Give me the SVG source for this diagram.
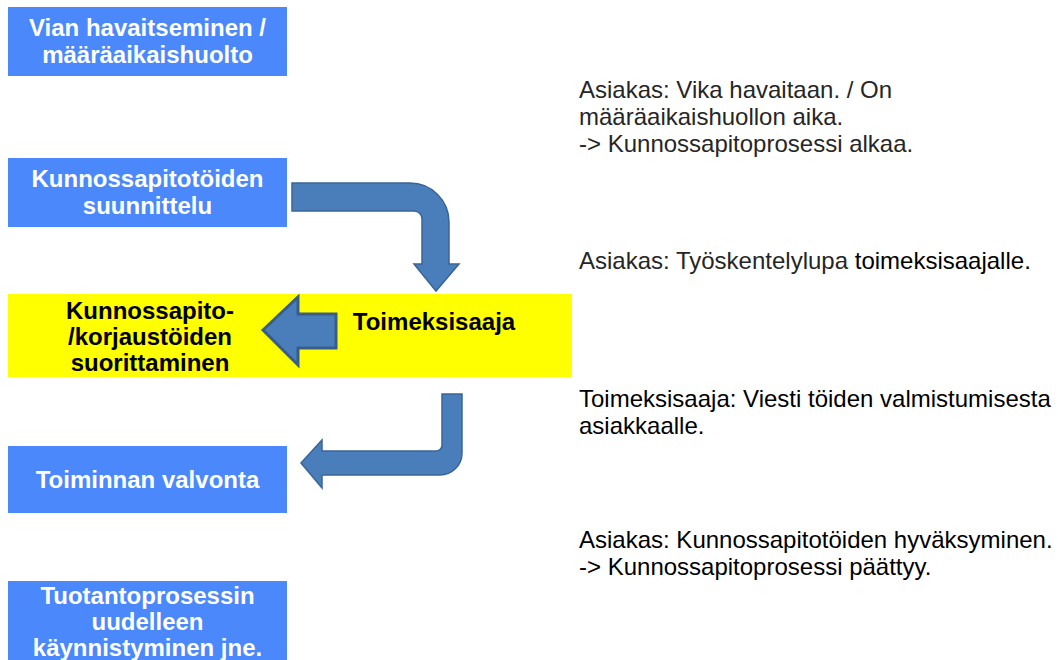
<svg xmlns="http://www.w3.org/2000/svg" width="1058" height="660" viewBox="0 0 1058 660">
<style>
.box{fill:#4a88fb}
.bt{font-family:"Liberation Sans",Arial,sans-serif;font-size:24px;font-weight:bold;fill:#fff;text-anchor:middle}
.yt{font-family:"Liberation Sans",Arial,sans-serif;font-size:24px;font-weight:bold;fill:#000;text-anchor:middle}
.nt{font-family:"Liberation Sans",Arial,sans-serif;font-size:24px;fill:#262626}
.nk{fill:#000}
.arr{fill:#4a7ebb;stroke:#3a6497;stroke-width:1.5;stroke-linejoin:miter}
.arr2{fill:#4a7ebb;stroke:#385d8a;stroke-width:3;stroke-linejoin:miter}
</style>
<rect width="1058" height="660" fill="#fff"/>
<g id="n1">
<rect class="box" x="8" y="7" width="279" height="69"/>
<text class="bt" x="147.5" y="36">Vian havaitseminen /</text>
<text class="bt" x="147.5" y="63">määräaikaishuolto</text>
</g>
<g id="n2">
<rect class="box" x="8" y="158" width="279" height="69"/>
<text class="bt" x="147.5" y="187">Kunnossapitotöiden</text>
<text class="bt" x="147.5" y="214">suunnittelu</text>
</g>
<g id="n3">
<rect x="8" y="294" width="564" height="83" fill="#ffff00"/>
<text class="yt" x="150" y="319">Kunnossapito-</text>
<text class="yt" x="150" y="345">/korjaustöiden</text>
<text class="yt" x="150" y="371">suorittaminen</text>
</g>
<g id="n3b">
<text class="yt" x="434" y="330">Toimeksisaaja</text>
</g>
<g id="n4">
<rect class="box" x="8" y="446" width="279" height="67"/>
<text class="bt" x="147.5" y="488">Toiminnan valvonta</text>
</g>
<g id="n5">
<rect class="box" x="8" y="581" width="279" height="80"/>
<text class="bt" x="147.5" y="604">Tuotantoprosessin</text>
<text class="bt" x="147.5" y="630">uudelleen</text>
<text class="bt" x="147.5" y="656">käynnistyminen jne.</text>
</g>
<g id="notes">
<text class="nt" x="579" y="98">Asiakas: Vika havaitaan. / On</text>
<text class="nt" x="579" y="125">määräaikaishuollon aika.</text>
<text class="nt" x="579" y="152">-&gt; Kunnossapitoprosessi alkaa.</text>
<text class="nt" x="579" y="269">Asiakas: Työskentelylupa <tspan class="nk">toimeksisaajalle.</tspan></text>
<text class="nt nk" x="579" y="407">Toimeksisaaja: Viesti töiden valmistumisesta</text>
<text class="nt nk" x="579" y="434">asiakkaalle.</text>
<text class="nt nk" x="579" y="548">Asiakas: Kunnossapitotöiden hyväksyminen.</text>
<text class="nt nk" x="579" y="575">-&gt; Kunnossapitoprosessi päättyy.</text>
</g>
<g id="connectors">
<path class="arr" d="M292,183 H410 A39,39 0 0 1 449,222 V264 H459 L436,291 L414,264 H422 V219 A8,8 0 0 0 414,211 H292 Z"/>
<path class="arr2" d="M263,330 L298,297 V314 H336 V348 H298 V365 Z"/>
<path class="arr" d="M442,394 H462 V453 A22,22 0 0 1 440,475 H322 V488 L301,463 L322,440 V451 H436 A6,6 0 0 0 442,445 Z"/>
</g>
</svg>
